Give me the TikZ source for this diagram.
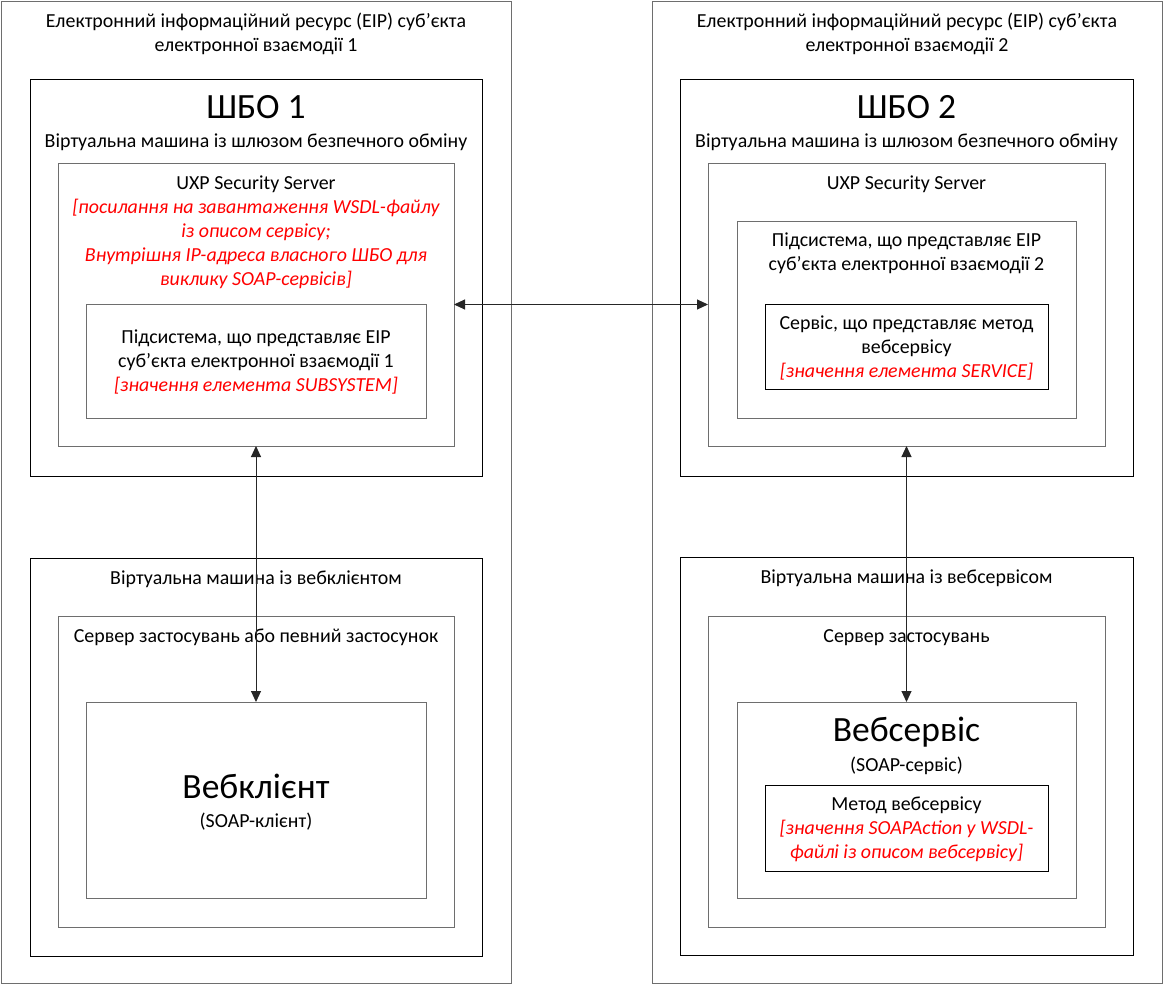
\documentclass[tikz,border=0pt]{standalone}
\usepackage{fontspec}
\setmainfont{Carlito}
\usetikzlibrary{arrows.meta}
\definecolor{frameg}{HTML}{6E6E6E}
\definecolor{accent}{HTML}{FF0000}

% a rectangle given by its corners (in px-like units)
\newcommand\boxat[6]{%
  \node[panel, draw=#6, minimum width={#4-#2}, minimum height={#5-#3}]
    (#1) at ({(#2+#4)/2},{(#3+#5)/2}) {};}
% strut that fixes the top of the first text line
\newcommand\fl{\rule{0pt}{17pt}}

\tikzset{
  panel/.style={line width=1pt, inner sep=0pt, outer sep=0pt, rectangle},
  txt/.style={font=\fontsize{19.9}{24}\selectfont, align=center, inner sep=0pt, outer sep=0pt},
  note/.style={txt, text=accent, font=\fontsize{19.9}{24}\selectfont\itshape},
  big/.style={font=\fontsize{35.5}{42}\selectfont, inner sep=0pt, outer sep=0pt},
  link/.style={line width=1pt, draw=black!85,
    {Triangle[length=11pt,width=10pt]}-{Triangle[length=11pt,width=10pt]}}
}

\begin{document}
\begin{tikzpicture}[x=1pt,y=-1pt]
\path[use as bounding box, fill=white] (0,0) rectangle (1163,985);

% ---------- participant 1 ----------
\boxat{outerA}{1}{1}{511}{983}{frameg}
\boxat{gateA}{30}{79}{482}{476}{black}
\boxat{uxpA}{58}{163}{454}{446}{frameg}
\boxat{subA}{86}{304}{426}{418}{frameg}
\boxat{hostA}{30}{558}{482}{956}{black}
\boxat{appA}{58}{616}{454}{927}{frameg}
\boxat{client}{86}{702}{426}{898}{frameg}

\node[txt, anchor=north] (titleA) at (256,10.3)
  {\fl Електронний інформаційний ресурс (ЕІР) суб’єкта\\електронної взаємодії 1};
\node[big, anchor=base] (gateAname) at (256,118.3) {ШБО 1};
\node[txt, anchor=base] (gateAtext) at (256,147.5) {Віртуальна машина із шлюзом безпечного обміну};
\node[txt, anchor=base] (uxpAtext) at (256,189) {UXP Security Server};
\node[note, anchor=north] (uxpAnote) at (256,196.3)
  {\fl[посилання на завантаження WSDL-файлу\\із описом сервісу;\\Внутрішня IP-адреса власного ШБО для\\виклику SOAP-сервісів]};
\node[txt, anchor=north] (subAtext) at (256,326.3)
  {\fl Підсистема, що представляє ЕІР\\суб’єкта електронної взаємодії 1\\{\color{accent}\itshape [значення елемента SUBSYSTEM]}};
\node[txt, anchor=base] (hostAtext) at (256,584) {Віртуальна машина із вебклієнтом};
\node[txt, anchor=base] (appAtext) at (256,642.3) {Сервер застосувань або певний застосунок};
\node[big, anchor=base] (clientname) at (256,798.3) {Вебклієнт};
\node[txt, anchor=base] (clienttext) at (256,827.3) {(SOAP-клієнт)};

% ---------- participant 2 ----------
\boxat{outerB}{652}{1}{1162}{983}{frameg}
\boxat{gateB}{680}{79}{1133}{476}{black}
\boxat{uxpB}{708}{163}{1105}{446}{frameg}
\boxat{subB}{737}{221}{1076}{418}{frameg}
\boxat{svcB}{765}{304}{1048}{389}{black}
\boxat{hostB}{680}{557}{1133}{955}{black}
\boxat{appB}{708}{616}{1105}{927}{frameg}
\boxat{wsB}{737}{702}{1076}{898}{frameg}
\boxat{methB}{765}{785}{1048}{871}{black}

\node[txt, anchor=north] (titleB) at (907,10.3)
  {\fl Електронний інформаційний ресурс (ЕІР) суб’єкта\\електронної взаємодії 2};
\node[big, anchor=base] (gateBname) at (906.5,118.3) {ШБО 2};
\node[txt, anchor=base] (gateBtext) at (906.5,147.5) {Віртуальна машина із шлюзом безпечного обміну};
\node[txt, anchor=base] (uxpBtext) at (906.5,189) {UXP Security Server};
\node[txt, anchor=north] (subBtext) at (906.5,229.7)
  {\fl Підсистема, що представляє ЕІР\\суб’єкта електронної взаємодії 2};
\node[txt, anchor=north] (svcBtext) at (906.5,312.3)
  {\fl Сервіс, що представляє метод\\вебсервісу\\{\color{accent}\itshape [значення елемента SERVICE]}};
\node[txt, anchor=base] (hostBtext) at (906.5,583.3) {Віртуальна машина із вебсервісом};
\node[txt, anchor=base] (appBtext) at (906.5,642.3) {Сервер застосувань};
\node[big, anchor=base] (wsname) at (906.5,741.7) {Вебсервіс};
\node[txt, anchor=base] (wstext) at (906.5,771) {(SOAP-сервіс)};
\node[txt, anchor=north] (methtext) at (906.5,793)
  {\fl Метод вебсервісу\\{\color{accent}\itshape [значення SOAPAction у WSDL-}\\{\color{accent}\itshape файлі із описом вебсервісу]}};

% ---------- connections ----------
\draw[link] (uxpA.east) -- (uxpB.west);
\draw[link] (uxpA.south) -- (client.north);
\draw[link] (uxpB.south) -- (wsB.north);
\end{tikzpicture}
\end{document}
